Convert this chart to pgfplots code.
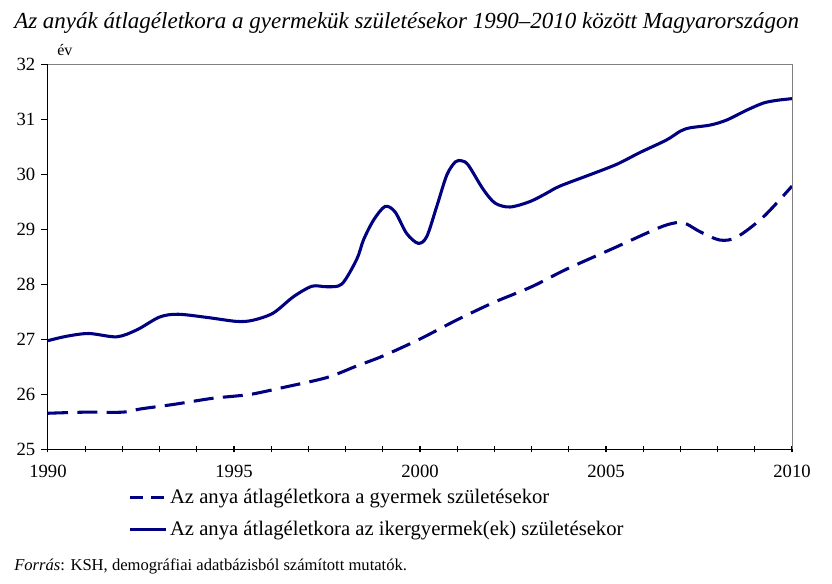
\documentclass[border=0pt]{standalone}
\usepackage{fontspec}
\setmainfont{Liberation Serif}
\usepackage{pgfplots}
\pgfplotsset{compat=1.18}
\definecolor{navy}{RGB}{0,0,128}
\pgfplotsset{dashedleg/.style={legend image code/.code={\draw[##1, dash pattern=on 10pt off 6pt] (0pt,0pt) -- (26pt,0pt);}}}
\begin{document}
\begin{tikzpicture}
\path (-36pt,-100.5pt) rectangle (588pt,336.75pt);
\begin{axis}[
  at={(0,0)}, anchor=south west,
  scale only axis,
  width=558pt, height=288.75pt,
  xmin=1990, xmax=2010, ymin=25, ymax=32,
  axis x line*=bottom, axis y line*=left,
  axis line style={black, line width=0.75pt},
  xtick={1990,1995,...,2010},
  minor xtick={1990,...,2010},
  ytick={25,...,32},
  xtick align=center, ytick align=outside,
  major tick length=5pt, minor tick length=5pt,
  tick style={black, line width=0.75pt},
  /pgf/number format/assume math mode=true,
  /pgf/number format/1000 sep={},
  tick label style={font=\fontsize{14pt}{16pt}\selectfont},
  xticklabel style={yshift=-6pt},
  yticklabel style={xshift=-1pt},
  legend style={at={(60pt,-28pt)}, anchor=north west, draw=none, fill=none,
    inner sep=0pt, row sep=7.5pt,
    font=\fontsize{15.5pt}{17pt}\selectfont, cells={anchor=west}},
  legend cell align=left,
  legend image code/.code={\draw[#1] (0pt,0pt) -- (27pt,0pt);},
  after end axis/.code={\draw[gray, line width=0.75pt] (rel axis cs:0,1) -- (rel axis cs:1,1) -- (rel axis cs:1,0);},
  clip=false,
]
\addplot[navy, line width=2.3pt, smooth, tension=0.5, dash pattern=on 15pt off 7pt, dashedleg] coordinates {
(1990,25.65) (1991,25.67) (1992,25.67) (1992.5,25.73) (1993.37,25.81)
(1994.4,25.92) (1995,25.96) (1995.5,26.00) (1996.4,26.13) (1997.5,26.30)
(1998.3,26.51) (1999,26.69) (2000,27.00) (2001,27.35) (2002,27.67)
(2003,27.95) (2003.94,28.27) (2005.2,28.65) (2006.45,29.03) (2006.94,29.12)
(2007.17,29.09) (2007.53,28.95) (2008.06,28.80) (2008.51,28.85) (2009.23,29.22)
(2010,29.78)};
\addlegendentry{Az anya átlagéletkora a gyermek születésekor}
\addplot[navy, line width=2.3pt, smooth, tension=0.5] coordinates {
(1990,26.97) (1990.5,27.05) (1991.1,27.10) (1991.85,27.04) (1992.4,27.17)
(1993,27.40) (1993.5,27.45) (1994.3,27.39) (1995.07,27.32) (1995.5,27.34)
(1996.05,27.47) (1996.6,27.77) (1997.1,27.96) (1997.5,27.95) (1997.9,28.0)
(1998.3,28.45) (1998.48,28.80) (1998.75,29.16) (1999.06,29.41) (1999.33,29.31)
(1999.64,28.92) (1999.95,28.74) (2000.18,28.86) (2000.45,29.41) (2000.72,29.98)
(2000.95,30.22) (2001.12,30.24) (2001.3,30.16) (2001.7,29.72) (2002.02,29.47)
(2002.42,29.40) (2002.96,29.50) (2003.4,29.65) (2003.76,29.78) (2004.66,30.01)
(2005.3,30.18) (2005.91,30.39) (2006.63,30.62) (2007.0,30.78) (2007.26,30.84)
(2007.8,30.89) (2008.24,30.98) (2008.78,31.16) (2009.23,31.29) (2009.6,31.34)
(2010,31.37)};
\addlegendentry{Az anya átlagéletkora az ikergyermek(ek) születésekor}
\end{axis}
\node[anchor=base west, inner sep=0pt, font=\fontsize{17.25pt}{20pt}\selectfont\itshape] at (-25.5pt,315.75pt) {Az anyák átlagéletkora a gyermekük születésekor 1990–2010 között Magyarországon};
\node[anchor=base west, inner sep=0pt, font=\fontsize{12pt}{14pt}\selectfont] at (6.75pt,295.5pt) {év};
\node[anchor=base west, inner sep=0pt, font=\fontsize{12.45pt}{14pt}\selectfont] at (-25.5pt,-90.75pt) {\textit{Forrás}: KSH, demográfiai adatbázisból számított mutatók.};
\end{tikzpicture}
\end{document}
